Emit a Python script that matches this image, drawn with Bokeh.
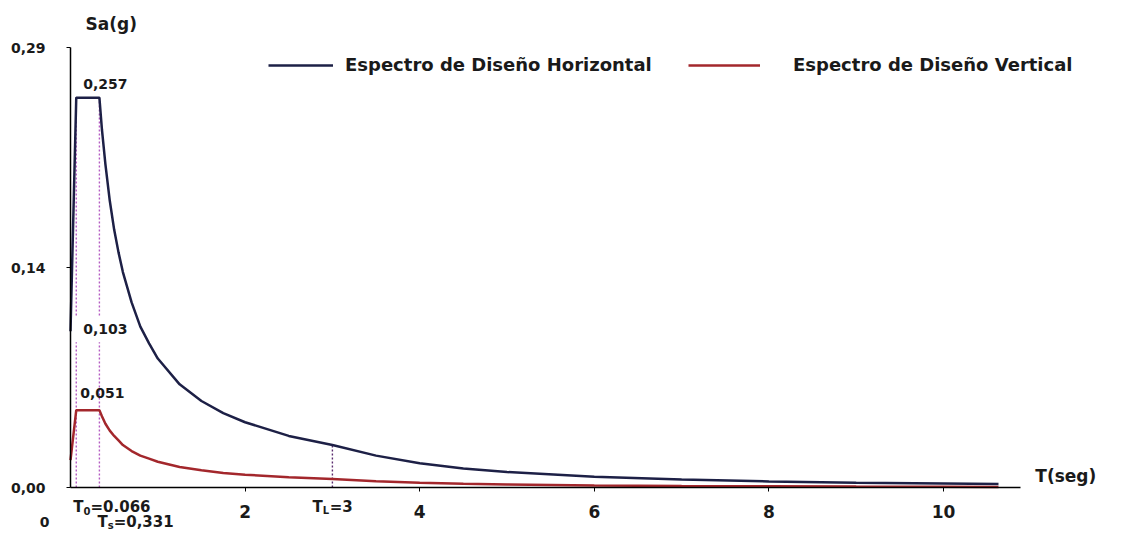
from bokeh.plotting import figure
from bokeh.models import Range1d, FixedTicker, Label, Legend, LegendItem
from bokeh.embed import file_html
from bokeh.resources import INLINE

# ---- data ----
T = [0, 0.066, 0.331, 0.36, 0.4, 0.45, 0.5, 0.55, 0.6, 0.7, 0.8, 0.9, 1.0,
     1.25, 1.5, 1.75, 2.0, 2.5, 3.0, 3.5, 4.0, 4.5, 5.0, 6.0, 7.0, 8.0, 9.0,
     10.0, 10.63]
sa_horizontal = [0.103, 0.257, 0.257, 0.236, 0.213, 0.189, 0.170, 0.155, 0.142,
                 0.122, 0.106, 0.095, 0.085, 0.068, 0.057, 0.049, 0.043, 0.034,
                 0.028, 0.021, 0.016, 0.0126, 0.0102, 0.0071, 0.0052, 0.0040,
                 0.0031, 0.0026, 0.0023]
sa_vertical = [0.018, 0.051, 0.051, 0.047, 0.042, 0.0375, 0.034, 0.031, 0.028,
               0.024, 0.021, 0.019, 0.017, 0.0135, 0.0113, 0.0096, 0.0084, 0.0068,
               0.0056, 0.0041, 0.0032, 0.0025, 0.0020, 0.0014, 0.0010, 0.0008,
               0.0006, 0.0005, 0.0004]
T0, TS, TL = 0.066, 0.331, 3.0
SA_H_MAX, SA_H_PGA, SA_V_MAX = 0.257, 0.103, 0.051
y_ticks = [0, 0.145, 0.29]
y_tick_labels = ["0,00", "0,14", "0,29"]
x_ticks = [2, 4, 6, 8, 10]
X_END, Y_END = 10.88, 0.29
legend_labels = ["Espectro de Diseño Horizontal", "Espectro de Diseño Vertical"]

# ---- layout (pixels) ----
W, H = 1113, 532
X0_PX, PX_PER_T = 70, 87.3      # where T=0 sits, pixels per second
Y0_PX, PX_PER_SA = 487, 1517    # where Sa=0 sits, pixels per g

FONT = "DejaVu Sans"
BLUE = "#1d2046"
RED = "#a3272c"
TXT = "#1a1a1a"

p = figure(width=W, height=H, output_backend="svg", toolbar_location=None,
           x_range=Range1d(-X0_PX / PX_PER_T, (W - X0_PX) / PX_PER_T),
           y_range=Range1d(-(H - Y0_PX) / PX_PER_SA, Y0_PX / PX_PER_SA),
           min_border=0, min_border_left=0, min_border_right=0,
           min_border_top=0, min_border_bottom=0)
p.outline_line_color = None
p.xgrid.visible = False
p.ygrid.visible = False
p.background_fill_color = "white"
p.border_fill_color = "white"

# axes (drawn at the data origin)
xa = p.xaxis[0]
xa.fixed_location = 0
xa.bounds = (0, X_END)
xa.ticker = FixedTicker(ticks=x_ticks)
xa.axis_line_color = "black"
xa.axis_line_width = 1.5
xa.major_tick_out = 4
xa.major_tick_in = 0
xa.minor_tick_line_color = None
xa.major_label_standoff = 13
xa.major_label_text_font = FONT
xa.major_label_text_font_style = "bold"
xa.major_label_text_font_size = "17px"
xa.major_label_text_color = TXT

ya = p.yaxis[0]
ya.fixed_location = 0
ya.bounds = (0, Y_END)
ya.ticker = FixedTicker(ticks=y_ticks)
ya.major_label_overrides = {t: s for t, s in zip(y_ticks, y_tick_labels)}
ya.axis_line_color = "black"
ya.axis_line_width = 1.5
ya.major_tick_out = 4
ya.major_tick_in = 0
ya.minor_tick_line_color = None
ya.major_label_standoff = 21
ya.major_label_text_font = FONT
ya.major_label_text_font_style = "bold"
ya.major_label_text_font_size = "14px"
ya.major_label_text_color = TXT

# dotted reference lines
tl_val = sa_horizontal[T.index(TL)]
p.segment(x0=[T0, TS, TL], y0=[0, 0, 0], x1=[T0, TS, TL],
          y1=[SA_H_MAX, SA_H_MAX, tl_val],
          line_color=["#b45cc2", "#b45cc2", "#5b2c6f"], line_width=1.4,
          line_dash="2 2")

# curves
r_h = p.line(T, sa_horizontal, line_color=BLUE, line_width=2.5)
r_v = p.line(T, sa_vertical, line_color=RED, line_width=2.5)

# legends
def make_legend(label, r, vx, glyph_w, standoff):
    return Legend(items=[LegendItem(label=label, renderers=[r])],
                  location=(vx, H - 75), orientation="horizontal",
                  glyph_width=glyph_w, glyph_height=20, label_height=20,
                  label_standoff=standoff, label_text_font=FONT,
                  label_text_font_style="bold", label_text_font_size="18px",
                  label_text_color=TXT, padding=0, margin=0,
                  border_line_color=None, background_fill_alpha=0)

p.add_layout(make_legend(legend_labels[0], r_h, 268, 65, 12))
p.add_layout(make_legend(legend_labels[1], r_v, 688, 72, 33))

def lab(x, y, text, size, xo=0, yo=0, align="left", bg=None, pad=None):
    kw = {}
    if bg is not None:
        kw = dict(background_fill_color=bg, padding=pad)
    p.add_layout(Label(x=x, y=y, text=text, x_offset=xo, y_offset=yo,
                       text_font=FONT, text_font_style="bold",
                       text_font_size=f"{size}px", text_color=TXT,
                       text_align=align, text_baseline="middle", **kw))

def sub_lab(x, main, sub, rest, xo, yo, size=15, sub_w=7):
    w_main = 0.682 * size
    lab(x, 0, main, size, xo, yo)
    lab(x, 0, sub, 10, xo + w_main, yo - 4)
    lab(x, 0, rest, size, xo + w_main + sub_w, yo)

# value annotations
lab(T0, SA_H_MAX, "0,257", 14, xo=7, yo=14)
lab(T0, SA_H_PGA, "0,103", 14, xo=-2, yo=2, bg="white",
    pad=dict(left=9, right=0, top=8, bottom=8))
lab(T0, SA_V_MAX, "0,051", 14, xo=4, yo=17)

# period annotations
sub_lab(T0, "T", "0", "=0.066", xo=-3, yo=-19)
sub_lab(TS, "T", "s", "=0,331", xo=-2, yo=-34, sub_w=6)
sub_lab(TL, "T", "L", "=3", xo=-20, yo=-19, sub_w=7)
lab(0, 0, "0", 14, xo=-26, yo=-34, align="center")

# axis titles
lab(0, Y_END, "Sa(g)", 17, xo=15, yo=24)
lab(X_END, 0, "T(seg)", 17, xo=15, yo=12)

open("out.html", "w").write(file_html(p, INLINE))
